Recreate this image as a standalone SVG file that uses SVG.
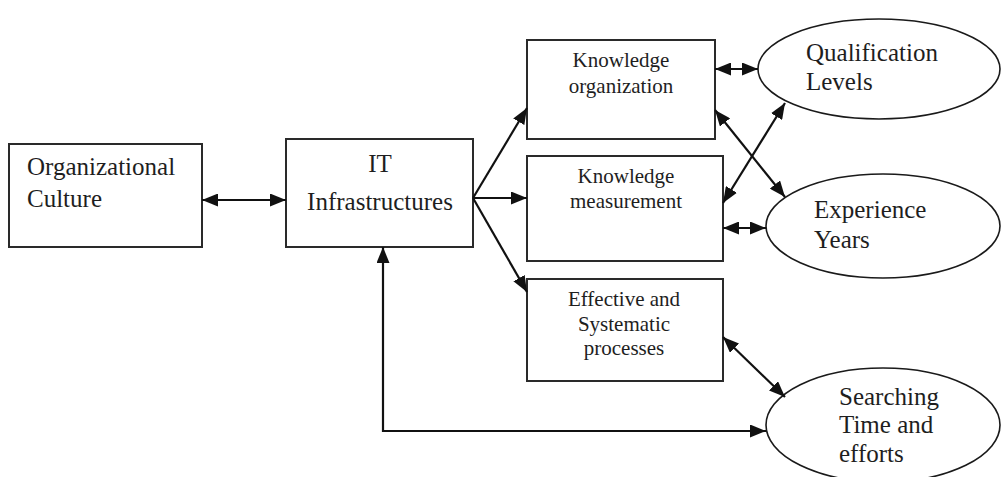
<svg xmlns="http://www.w3.org/2000/svg" width="1001" height="477" viewBox="0 0 1001 477">
  <style>
    .box { fill: #ffffff; stroke: #2a2a2a; stroke-width: 2; }
    .oval { fill: #ffffff; stroke: #1a1a1a; stroke-width: 1.6; }
    text { font-family: 'Liberation Serif', 'DejaVu Serif', 'Times New Roman', Times, serif; fill: #1e1e1e; }
    .lg { font-size: 25px; }
    .sm { font-size: 21px; text-anchor: middle; }
    .mid { text-anchor: middle; }
    .conn { fill: none; stroke: #111111; stroke-width: 2.2; }
  </style>
  <defs>
    <marker id="head" viewBox="0 0 16 13" refX="16" refY="6.5" markerWidth="16" markerHeight="13" markerUnits="userSpaceOnUse" orient="auto-start-reverse">
      <path d="M0,0 L16,6.5 L0,13 z" fill="#111111"/>
    </marker>
  </defs>
  <rect width="1001" height="477" fill="#ffffff"/>

  <!-- nodes -->
  <g id="org-culture">
    <rect class="box" x="9" y="144" width="193" height="103"/>
    <text class="lg" x="27" y="175" font-family="Liberation Serif, serif">Organizational</text>
    <text class="lg" x="27" y="207" font-family="Liberation Serif, serif">Culture</text>
  </g>
  <g id="it-infra">
    <rect class="box" x="286" y="139" width="187" height="108"/>
    <text class="lg mid" x="380" y="172" font-family="Liberation Serif, serif">IT</text>
    <text class="lg mid" x="380" y="210" font-family="Liberation Serif, serif">Infrastructures</text>
  </g>
  <g id="knowledge-org">
    <rect class="box" x="527" y="40" width="188" height="99"/>
    <text class="sm" x="621" y="67" font-family="Liberation Serif, serif">Knowledge</text>
    <text class="sm" x="621" y="93" font-family="Liberation Serif, serif">organization</text>
  </g>
  <g id="knowledge-measure">
    <rect class="box" x="527" y="156" width="196" height="105"/>
    <text class="sm" x="626" y="183" font-family="Liberation Serif, serif">Knowledge</text>
    <text class="sm" x="626" y="208" font-family="Liberation Serif, serif">measurement</text>
  </g>
  <g id="effective-processes">
    <rect class="box" x="527" y="279" width="196" height="102"/>
    <text class="sm" x="624" y="306" font-family="Liberation Serif, serif">Effective and</text>
    <text class="sm" x="624" y="331" font-family="Liberation Serif, serif">Systematic</text>
    <text class="sm" x="624" y="355" font-family="Liberation Serif, serif">processes</text>
  </g>
  <g id="qualification">
    <ellipse class="oval" cx="879" cy="69" rx="121" ry="50"/>
    <text class="lg" x="806" y="60.5" font-family="Liberation Serif, serif">Qualification</text>
    <text class="lg" x="806" y="90" font-family="Liberation Serif, serif">Levels</text>
  </g>
  <g id="experience">
    <ellipse class="oval" cx="883" cy="226" rx="117" ry="52"/>
    <text class="lg" x="814" y="218" font-family="Liberation Serif, serif">Experience</text>
    <text class="lg" x="814" y="248" font-family="Liberation Serif, serif">Years</text>
  </g>
  <g id="searching">
    <ellipse class="oval" cx="883" cy="425" rx="117" ry="57"/>
    <text class="lg" x="839" y="405" font-family="Liberation Serif, serif">Searching</text>
    <text class="lg" x="839" y="433" font-family="Liberation Serif, serif">Time and</text>
    <text class="lg" x="839" y="462" font-family="Liberation Serif, serif">efforts</text>
  </g>

  <!-- connectors -->
  <g id="connectors">
    <line class="conn" x1="202" y1="200" x2="286" y2="200" marker-start="url(#head)" marker-end="url(#head)"/>
    <line class="conn" x1="473" y1="198" x2="527" y2="108" marker-end="url(#head)"/>
    <line class="conn" x1="473" y1="198" x2="527" y2="198" marker-end="url(#head)"/>
    <line class="conn" x1="473" y1="198" x2="527" y2="292" marker-end="url(#head)"/>
    <line class="conn" x1="715" y1="69" x2="758" y2="69" marker-start="url(#head)" marker-end="url(#head)"/>
    <line class="conn" x1="715" y1="110" x2="785" y2="197" marker-start="url(#head)" marker-end="url(#head)"/>
    <line class="conn" x1="723" y1="203" x2="785" y2="103" marker-start="url(#head)" marker-end="url(#head)"/>
    <line class="conn" x1="723" y1="228" x2="766" y2="228" marker-start="url(#head)" marker-end="url(#head)"/>
    <line class="conn" x1="723" y1="337" x2="785" y2="397" marker-start="url(#head)" marker-end="url(#head)"/>
    <polyline class="conn" points="383,247 383,431 766,431" marker-start="url(#head)" marker-end="url(#head)"/>
  </g>
</svg>
